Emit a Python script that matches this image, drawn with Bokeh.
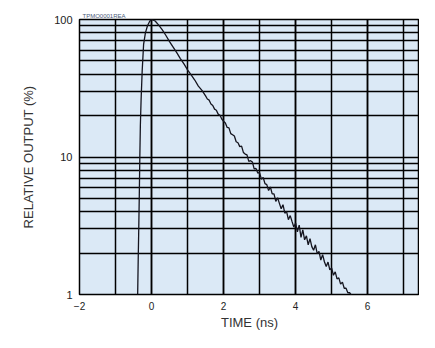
from bokeh.plotting import figure
from bokeh.models import FixedTicker, Range1d
from bokeh.embed import file_html
from bokeh.resources import INLINE

# Rising edge of the pulse (time in ns, relative output in %)
rise_t = [-0.385, -0.37, -0.355, -0.34, -0.325, -0.31, -0.29, -0.26, -0.22, -0.17, -0.11, -0.06, -0.02]
rise_y = [1.0, 1.8, 3.0, 5.2, 10, 17, 26, 42, 66, 80, 90.5, 96, 99.5]

# Decay of the pulse
decay_t = [0.0, 0.1, 0.2, 0.3, 0.4, 0.5, 0.6, 0.7, 0.8, 0.9, 1.0, 1.1, 1.2, 1.3, 1.4,
           1.5, 1.55, 1.6, 1.65, 1.7, 1.75, 1.8, 1.85, 1.9, 1.95,
           2.0, 2.05, 2.1, 2.15, 2.2, 2.25, 2.3, 2.35, 2.4, 2.45,
           2.5, 2.55, 2.6, 2.65, 2.7, 2.75, 2.8, 2.85, 2.9, 2.95,
           3.0, 3.05, 3.1, 3.15, 3.2, 3.25, 3.3, 3.35, 3.4, 3.45,
           3.5, 3.55, 3.6, 3.65, 3.7, 3.75, 3.8, 3.85, 3.9, 3.95,
           4.0, 4.05, 4.1, 4.15, 4.2, 4.25, 4.3, 4.35, 4.4, 4.45,
           4.5, 4.55, 4.6, 4.65, 4.7, 4.75, 4.8, 4.85, 4.9, 4.95,
           5.0, 5.05, 5.1, 5.15, 5.2, 5.25, 5.3, 5.35, 5.4, 5.45, 5.5, 5.55]
decay_y = [100, 97.5, 91, 84, 76.5, 69, 63, 57.5, 52, 47.5, 43, 39.5, 36.3, 32.8, 30.5,
           27.8, 26.4, 25.9, 24.3, 23.7, 22.3, 21.9, 20.5, 20.1, 18.9,
           18.2, 17.7, 16.4, 16.3, 14.8, 14.5, 14.2, 12.9, 12.7, 11.9,
           12.0, 10.8, 10.5, 10.35, 9.3, 9.4, 9.2, 8.2, 8.25, 7.65,
           7.7, 6.9, 7.1, 6.4, 6.3, 5.7, 6.05, 5.4, 5.4, 4.75,
           5.05, 4.6, 4.2, 4.5, 3.9, 4.0, 3.5, 3.75, 3.4, 3.1,
           3.3, 2.85, 3.2, 2.6, 2.95, 2.5, 2.67, 2.3, 2.55, 2.23,
           2.1, 2.3, 1.98, 2.06, 1.78, 1.95, 1.73, 1.6, 1.72, 1.51,
           1.56, 1.38, 1.46, 1.3, 1.32, 1.19, 1.23, 1.11, 1.11, 1.03, 1.03, 0.99]

x_major = [-2, 0, 2, 4, 6]
x_minor = [-2, -1, 0, 1, 2, 3, 4, 5, 6, 7]
y_major = [1, 10, 100]
y_minor = [2, 3, 4, 5, 6, 7, 8, 9, 20, 30, 40, 50, 60, 70, 80, 90]
y_labels = {1: "1", 10: "10", 100: "100"}

t = rise_t + decay_t
y = rise_y + decay_y

p = figure(width=419, height=332, y_axis_type="log",
           x_range=Range1d(-2, 7.44), y_range=Range1d(1, 100),
           output_backend="svg", toolbar_location=None,
           title="TPMO0001REA",
           min_border_left=79, min_border_top=19, min_border_right=0, min_border_bottom=36)

p.title.text_font = "Liberation Sans"
p.title.text_font_size = "6px"
p.title.text_font_style = "normal"
p.title.text_color = "#4a5a7a"
p.title.align = "left"
p.title.offset = 3
p.title.standoff = 1

p.background_fill_color = "#dbe9f6"
p.border_fill_color = "white"
p.outline_line_color = "black"
p.outline_line_width = 1.5

p.line(t, y, line_color="#15151f", line_width=1.3)

# Axes
p.xaxis.ticker = FixedTicker(ticks=x_major, minor_ticks=x_minor)
p.yaxis.ticker = FixedTicker(ticks=y_major, minor_ticks=y_minor)
p.xgrid.ticker = FixedTicker(ticks=x_major, minor_ticks=x_minor)
p.ygrid.ticker = FixedTicker(ticks=y_major, minor_ticks=y_minor)
p.yaxis.major_label_overrides = y_labels

for g in (p.xgrid, p.ygrid):
    g.grid_line_color = "black"
    g.grid_line_width = 1.5
    g.grid_line_alpha = 1.0
    g.minor_grid_line_color = "black"
    g.minor_grid_line_width = 1.5

for ax in (p.xaxis, p.yaxis):
    ax.axis_line_color = None
    ax.major_tick_line_color = None
    ax.minor_tick_line_color = None
    ax.major_label_text_font = "Liberation Sans"
    ax.major_label_text_color = "#222222"
    ax.axis_label_text_font = "Liberation Sans"
    ax.axis_label_text_font_style = "normal"
    ax.axis_label_text_color = "#333333"
    ax.axis_label_text_font_size = "13px"

p.xaxis.major_label_text_font_size = "10px"
p.yaxis.major_label_text_font_size = "11px"
p.xaxis.major_label_standoff = 1
p.yaxis.major_label_standoff = 1
p.xaxis.axis_label = "TIME (ns)"
p.yaxis.axis_label = "RELATIVE OUTPUT (%)"
p.xaxis.axis_label_standoff = 2
p.yaxis.axis_label_standoff = 15

open("out.html", "w").write(file_html(p, INLINE))
